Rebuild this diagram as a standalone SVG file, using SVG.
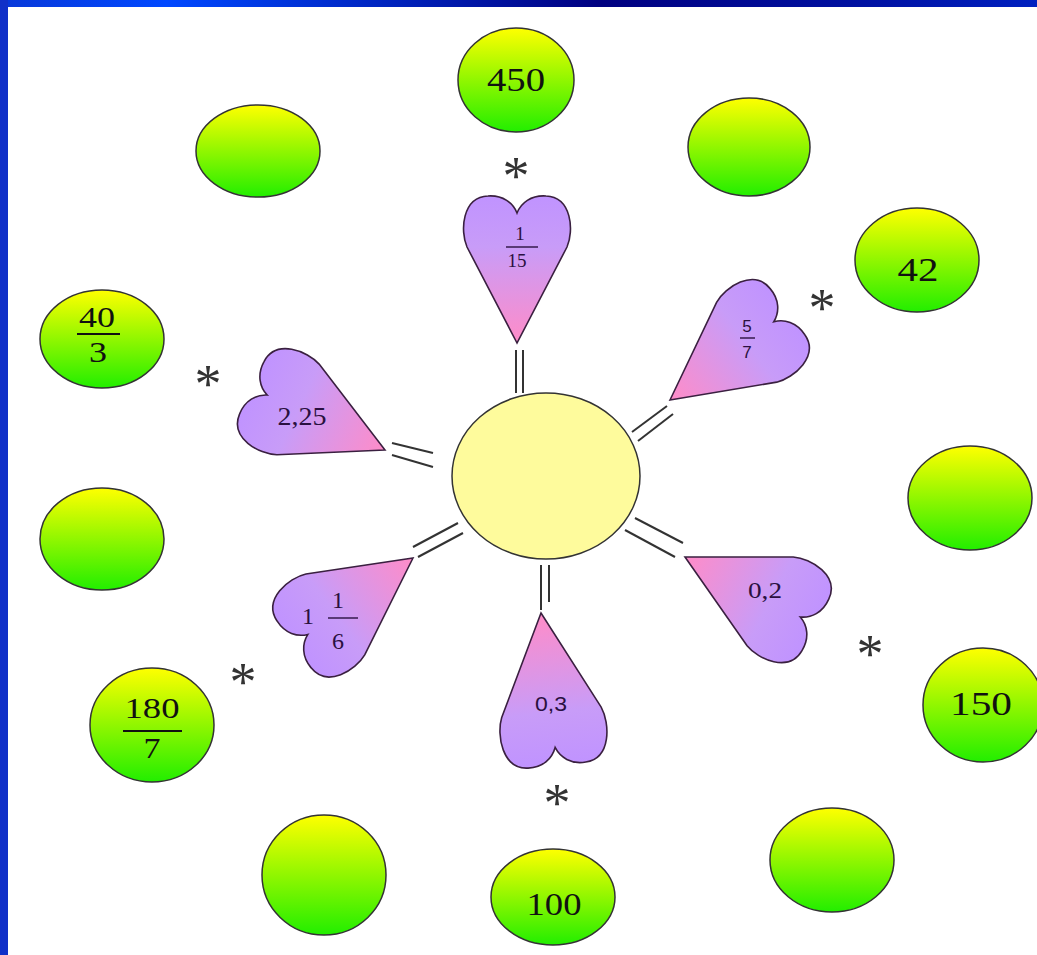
<svg xmlns="http://www.w3.org/2000/svg" width="1037" height="955" viewBox="0 0 1037 955">
<defs>
<linearGradient id="band" x1="0" y1="0" x2="1" y2="0">
<stop offset="0" stop-color="#0838d8"/><stop offset="0.16" stop-color="#0048ff"/><stop offset="0.58" stop-color="#000080"/><stop offset="0.82" stop-color="#0010a0"/><stop offset="1" stop-color="#0020c0"/>
</linearGradient>
<linearGradient id="green" x1="0" y1="0" x2="0" y2="1">
<stop offset="0" stop-color="#ffff00"/><stop offset="1" stop-color="#22ee00"/>
</linearGradient>
<linearGradient id="pink" gradientUnits="userSpaceOnUse" x1="0" y1="-148" x2="0" y2="0">
<stop offset="0" stop-color="#c093ff"/><stop offset="0.35" stop-color="#c89cf8"/><stop offset="1" stop-color="#ff8cc8"/>
</linearGradient>
<path id="heart" d="M0,0 L-50,-96 C-57,-112 -55,-146 -29,-147 C-14,-148 -4,-140 0,-130 C4,-140 14,-148 29,-147 C55,-146 57,-112 50,-96 Z"/>
<style>
.blob{fill:url(#green);stroke:#333;stroke-width:1.5}
.ht{fill:url(#pink);stroke:#3a2040;stroke-width:1.6}
.num{font-family:"Liberation Serif",serif;fill:#111;text-anchor:middle}
.sans{font-family:"Liberation Sans",sans-serif;fill:#2a1040;text-anchor:middle}
.ser{font-family:"Liberation Serif",serif;fill:#2a1040;text-anchor:middle}
.bar{stroke:#111;stroke-width:2}
.hbar{stroke:#2a1040;stroke-width:1.4}
.ast{font-family:"Liberation Serif",serif;font-size:54px;fill:#333;text-anchor:middle}
.con line{stroke:#333;stroke-width:2}
</style>
</defs>
<rect width="1037" height="955" fill="#ffffff"/>
<rect x="0" y="0" width="1037" height="7" fill="url(#band)"/>
<rect x="0" y="0" width="8" height="955" fill="#1030c8"/>

<g id="connectors" class="con">
<line x1="516" y1="350" x2="516" y2="393"/><line x1="523" y1="350" x2="523" y2="393"/>
<line x1="632" y1="432" x2="667" y2="406"/><line x1="638" y1="441" x2="673" y2="414"/>
<line x1="392" y1="443" x2="433" y2="453"/><line x1="392" y1="455" x2="433" y2="467"/>
<line x1="413" y1="547" x2="458" y2="523"/><line x1="418" y1="557" x2="463" y2="533"/>
<line x1="541" y1="565" x2="541" y2="610"/><line x1="549" y1="565" x2="549" y2="602"/>
<line x1="635" y1="518" x2="683" y2="543"/><line x1="625" y1="530" x2="675" y2="557"/>
</g>

<g id="center"><ellipse cx="546" cy="476" rx="94" ry="83" fill="#fefb9c" stroke="#333" stroke-width="1.5"/></g>

<g id="heart-top"><use href="#heart" class="ht" transform="translate(517,343)"/>
<text class="ser" x="520" y="240" font-size="19">1</text><line class="hbar" x1="506" y1="247" x2="538" y2="247"/><text class="ser" x="517" y="267" font-size="19" textLength="19" lengthAdjust="spacingAndGlyphs">15</text></g>
<g id="heart-topright"><use href="#heart" class="ht" transform="translate(670,400) rotate(53)"/>
<text class="sans" x="747" y="332" font-size="17">5</text><line class="hbar" x1="740" y1="338" x2="755" y2="338"/><text class="sans" x="747" y="358" font-size="17">7</text></g>
<g id="heart-left"><use href="#heart" class="ht" transform="translate(385,450) rotate(-65)"/>
<text class="ser" x="302" y="425" font-size="26" textLength="49" lengthAdjust="spacingAndGlyphs">2,25</text></g>
<g id="heart-lowerleft"><use href="#heart" class="ht" transform="translate(413,558) rotate(-126)"/>
<text class="ser" x="308" y="624" font-size="24">1</text><text class="ser" x="338" y="608" font-size="24">1</text><line class="hbar" x1="328" y1="618" x2="358" y2="618"/><text class="ser" x="338" y="649" font-size="24">6</text></g>
<g id="heart-bottom"><use href="#heart" class="ht" transform="translate(541,613) rotate(174) scale(1,1.04)"/>
<text class="sans" x="551" y="711" font-size="20" textLength="32" lengthAdjust="spacingAndGlyphs">0,3</text></g>
<g id="heart-right"><use href="#heart" class="ht" transform="translate(685,557) rotate(117.5)"/>
<text class="ser" x="765" y="598" font-size="24" textLength="34" lengthAdjust="spacingAndGlyphs">0,2</text></g>

<g id="n450"><ellipse class="blob" cx="516" cy="80" rx="58" ry="52"/><text class="num" x="516" y="91" font-size="33" textLength="58" lengthAdjust="spacingAndGlyphs">450</text></g>
<g id="n-tl"><ellipse class="blob" cx="258" cy="151" rx="62" ry="46"/></g>
<g id="n-tr"><ellipse class="blob" cx="749" cy="147" rx="61" ry="49"/></g>
<g id="n42"><ellipse class="blob" cx="917" cy="260" rx="62" ry="52"/><text class="num" x="918" y="281" font-size="33" textLength="41" lengthAdjust="spacingAndGlyphs">42</text></g>
<g id="n40-3"><ellipse class="blob" cx="102" cy="339" rx="62" ry="49"/><text class="num" x="97" y="327" font-size="29" textLength="36" lengthAdjust="spacingAndGlyphs">40</text><line class="bar" x1="77" y1="334" x2="120" y2="334"/><text class="num" x="98" y="362" font-size="29" textLength="18" lengthAdjust="spacingAndGlyphs">3</text></g>
<g id="n-l"><ellipse class="blob" cx="102" cy="539" rx="62" ry="51"/></g>
<g id="n-r"><ellipse class="blob" cx="970" cy="498" rx="62" ry="52"/></g>
<g id="n180-7"><ellipse class="blob" cx="152" cy="725" rx="62" ry="57"/><text class="num" x="152" y="718" font-size="29" textLength="55" lengthAdjust="spacingAndGlyphs">180</text><line class="bar" x1="123" y1="731" x2="182" y2="731"/><text class="num" x="152" y="758" font-size="29" textLength="17" lengthAdjust="spacingAndGlyphs">7</text></g>
<g id="n150"><ellipse class="blob" cx="983" cy="705" rx="60" ry="57"/><text class="num" x="981" y="715" font-size="33" textLength="62" lengthAdjust="spacingAndGlyphs">150</text></g>
<g id="n-bl"><ellipse class="blob" cx="324" cy="875" rx="62" ry="60"/></g>
<g id="n100"><ellipse class="blob" cx="553" cy="897" rx="62" ry="48"/><text class="num" x="554" y="915" font-size="31" textLength="55" lengthAdjust="spacingAndGlyphs">100</text></g>
<g id="n-br"><ellipse class="blob" cx="832" cy="860" rx="62" ry="52"/></g>

<g id="asterisks">
<text class="ast" x="516" y="194">*</text>
<text class="ast" x="822" y="326">*</text>
<text class="ast" x="208" y="402">*</text>
<text class="ast" x="870" y="672">*</text>
<text class="ast" x="243" y="700">*</text>
<text class="ast" x="557" y="821">*</text>
</g>
</svg>
